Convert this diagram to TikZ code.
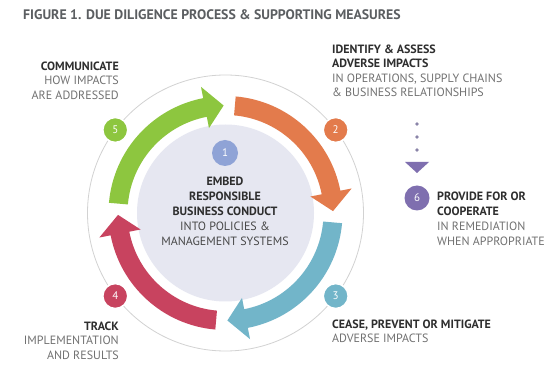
\documentclass[tikz,border=0pt]{standalone}
\usepackage{fontspec}
\setmainfont{PT Sans}
\usepackage{tikz}
\usetikzlibrary{calc}
\usetikzlibrary{positioning}

\definecolor{stepgreen}{HTML}{8DC63F}
\definecolor{steporange}{HTML}{E37B4C}
\definecolor{stepblue}{HTML}{72B5C9}
\definecolor{stepred}{HTML}{C8435F}
\definecolor{steplilac}{HTML}{8FA3D6}
\definecolor{steppurple}{HTML}{7F6FAF}
\definecolor{dotgray}{HTML}{8A84A8}
\definecolor{palefill}{HTML}{E6E7F1}
\definecolor{ringgray}{HTML}{D2D2D2}
\definecolor{titlegray}{HTML}{5B5E61}
\definecolor{darktext}{HTML}{2E2E2E}
\definecolor{midtext}{HTML}{484848}
\definecolor{softtext}{HTML}{717171}

\newcommand{\keyline}[1]{\textcolor{darktext}{\bfseries #1}}
\newcommand{\cyclearrow}[2]{%
\fill[#1] ($(C)+(#2+85:117)$) arc[start angle=#2+85, end angle=#2+11, radius=117]
  -- ($(C)+(#2+11:128.5)$) -- ($(C)+(#2+1:107.5)$) -- ($(C)+(#2+11:86.5)$)
  -- ($(C)+(#2+11:98)$) arc[start angle=#2+11, end angle=#2+85, radius=98] -- cycle;}

\begin{document}
\begin{tikzpicture}[x=1pt,y=1pt,
  numdot/.style={circle,draw=white,line width=1.6pt,minimum size=25pt,inner sep=0pt,text=white,font=\fontsize{11}{11}\selectfont},
  blocktext/.style={inner sep=0pt,text=softtext,font=\fontsize{12}{14.5}\selectfont}]
\fill[white] (0,0) rectangle (559,369);
\useasboundingbox (0,0) rectangle (559,369);
\coordinate (C) at (225.5,156);

\node[anchor=base west,inner sep=0pt,text=titlegray,font=\bfseries\fontsize{13.8}{16}\selectfont] (title) at (23,349) {FIGURE 1. DUE DILIGENCE PROCESS \& SUPPORTING MEASURES};

\draw[ringgray,line width=0.8pt] (C) circle[radius=138];
\fill[palefill] (C) circle[radius=88.5];
\cyclearrow{steporange}{0}
\cyclearrow{stepblue}{-90}
\cyclearrow{stepred}{-180}
\cyclearrow{stepgreen}{90}

\node[numdot,fill=steplilac,draw=none,minimum size=26pt] (n1) at (225,216) {1};
\node[numdot,fill=steporange] (n2) at ($(C)+(37:138)$) {2};
\node[numdot,fill=stepblue] (n3) at ($(C)+(-37:138)$) {3};
\node[numdot,fill=stepred] (n4) at ($(C)+(-143:138)$) {4};
\node[numdot,fill=stepgreen] (n5) at ($(C)+(143:138)$) {5};

\node[blocktext,anchor=north,align=center,text=midtext,font=\fontsize{12}{15}\selectfont] (embed) at (225,192.4) {\keyline{EMBED}\\\keyline{RESPONSIBLE}\\\keyline{BUSINESS CONDUCT}\\INTO POLICIES \&\\MANAGEMENT SYSTEMS};
\node[blocktext,anchor=north east,align=right] (communicate) at (119,307.4) {\keyline{COMMUNICATE}\\HOW IMPACTS\\ARE ADDRESSED};
\node[blocktext,anchor=north west,align=left] (identify) at (332,324.4) {\keyline{IDENTIFY \& ASSESS}\\\keyline{ADVERSE IMPACTS}\\IN OPERATIONS, SUPPLY CHAINS\\\& BUSINESS RELATIONSHIPS};
\node[blocktext,anchor=north west,align=left] (cease) at (332,49.4) {\keyline{CEASE, PREVENT OR MITIGATE}\\ADVERSE IMPACTS};
\node[blocktext,anchor=north east,align=right] (track) at (119,47.4) {\keyline{TRACK}\\IMPLEMENTATION\\AND RESULTS};

\coordinate (dtop) at (417,245);
\coordinate (dend) at (417,218.5);
\draw[dotgray,line width=3.6pt,line cap=round,dash pattern=on 0pt off 13pt] (dtop) -- (dend);
\fill[steppurple] (405,207) -- (429,207) -- (417,196) -- cycle;
\node[numdot,fill=steppurple,draw=none] (n6) at (417,171) {6};
\node[blocktext,anchor=north west,align=left,font=\fontsize{12}{15}\selectfont] (remedy) at (437,177.4) {\keyline{PROVIDE FOR OR}\\\keyline{COOPERATE}\\IN REMEDIATION\\WHEN APPROPRIATE};
\end{tikzpicture}
\end{document}
